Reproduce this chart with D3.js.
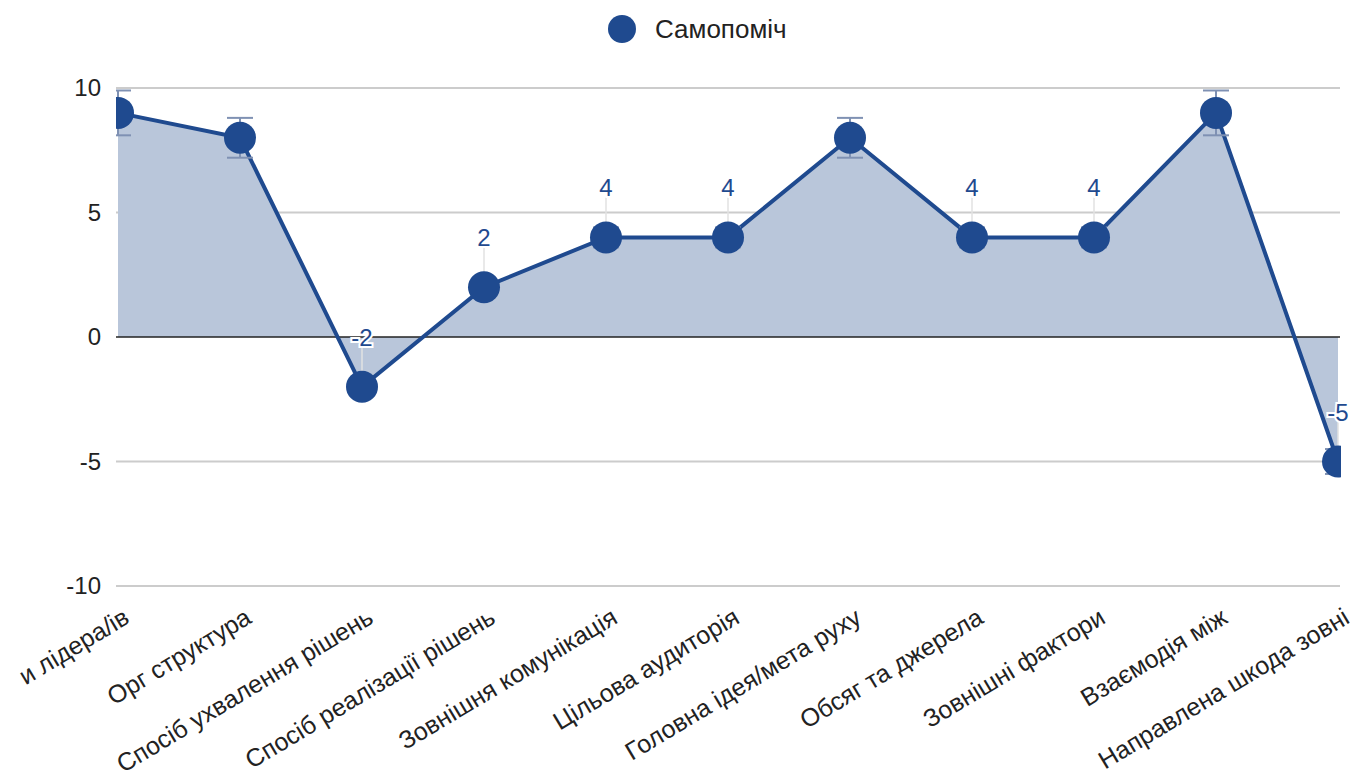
<!DOCTYPE html>
<html><head><meta charset="utf-8">
<script src="https://cdn.jsdelivr.net/npm/d3@7"></script>
<style>body{margin:0;background:#fff;} text{font-family:Arial,"Liberation Sans",sans-serif;}</style>
</head><body><svg id="c" width="1361" height="779"></svg>
<script>
const categories = ["и лідера/ів","Орг структура","Спосіб ухвалення рішень","Спосіб реалізації рішень","Зовнішня комунікація","Цільова аудиторія","Головна ідея/мета руху","Обсяг та джерела","Зовнішні фактори","Взаємодія між","Направлена шкода зовні"];
const values = [9,8,-2,2,4,4,8,4,4,9,-5];
const errors = [0.9,0.8,0.2,0.2,0.4,0.4,0.8,0.4,0.4,0.9,0.5];
const showLabel = [false,false,true,true,true,true,false,true,true,false,true];
const yTicks = [-10,-5,0,5,10];
const seriesName = "Самопоміч";

const svg = d3.select("#c");
const color = "#1f4a8f";
const x = d3.scalePoint().domain(categories).range([118,1338]);
const y = d3.scaleLinear().domain([-10,10]).range([586,88]);

// gridlines
svg.append("g").selectAll("line").data(yTicks.filter(d=>d!==0)).join("line")
  .attr("x1",116).attr("x2",1340).attr("y1",d=>y(d)).attr("y2",d=>y(d))
  .attr("stroke","#cccccc").attr("stroke-width",2);
// y axis labels
const yAxis = d3.axisLeft(y).tickValues(yTicks).tickSize(0).tickPadding(15).tickFormat(d=>String(d));
const ya = svg.append("g").attr("transform","translate(116,0)").call(yAxis);
ya.select(".domain").remove();
ya.selectAll("text").attr("font-size",24).attr("fill","#222").style("font-family","Arial,'Liberation Sans',sans-serif");

svg.append("defs").append("clipPath").attr("id","clip").append("rect").attr("x",116).attr("y",0).attr("width",1225).attr("height",620);
const g = svg.append("g").attr("clip-path","url(#clip)");

const area = d3.area().x((d,i)=>x(categories[i])).y0(y(0)).y1(d=>y(d));
g.append("path").datum(values).attr("d",area).attr("fill","#b9c6da");
// zero line
g.append("line").attr("x1",116).attr("x2",1340).attr("y1",y(0)).attr("y2",y(0)).attr("stroke","#222").attr("stroke-width",1.5);

// leader lines & labels
const lab = values.map((v,i)=>({v,i})).filter(d=>showLabel[d.i]);
g.selectAll(".lead").data(lab).join("line")
  .attr("x1",d=>x(categories[d.i])).attr("x2",d=>x(categories[d.i]))
  .attr("y1",d=>y(d.v)-40).attr("y2",d=>y(d.v)).attr("stroke","#e2e2e2").attr("stroke-width",1.5);

const line = d3.line().x((d,i)=>x(categories[i])).y(d=>y(d));
g.append("path").datum(values).attr("d",line).attr("fill","none").attr("stroke",color).attr("stroke-width",4);

// error bars
const eb = g.append("g").attr("stroke","#7f91b3").attr("stroke-width",2);
values.forEach((v,i)=>{
  const cx = x(categories[i]);
  eb.append("line").attr("x1",cx).attr("x2",cx).attr("y1",y(v+errors[i])).attr("y2",y(v-errors[i]));
  [v+errors[i],v-errors[i]].forEach(e=>eb.append("line").attr("x1",cx-13).attr("x2",cx+13).attr("y1",y(e)).attr("y2",y(e)));
});
g.selectAll(".pt").data(values).join("circle")
  .attr("cx",(d,i)=>x(categories[i])).attr("cy",d=>y(d)).attr("r",16).attr("fill",color);

svg.append("g").selectAll(".lbl").data(lab).join("text")
  .attr("x",d=>x(categories[d.i])).attr("y",d=>y(d.v)-41)
  .attr("text-anchor","middle").attr("font-size",24).attr("fill",color)
  .attr("stroke","#fff").attr("stroke-width",4).attr("paint-order","stroke")
  .text(d=>d.v);

// x labels
svg.append("g").selectAll("text").data(categories).join("text")
  .attr("transform",d=>`translate(${x(d)+13},${622}) rotate(-31)`)
  .attr("text-anchor","end").attr("font-size",25).attr("fill","#222").text(d=>d);

// legend
svg.append("circle").attr("cx",622).attr("cy",29).attr("r",14).attr("fill",color);
svg.append("text").attr("x",655).attr("y",38).attr("font-size",26).attr("fill","#222").text(seriesName);
</script></body></html>
